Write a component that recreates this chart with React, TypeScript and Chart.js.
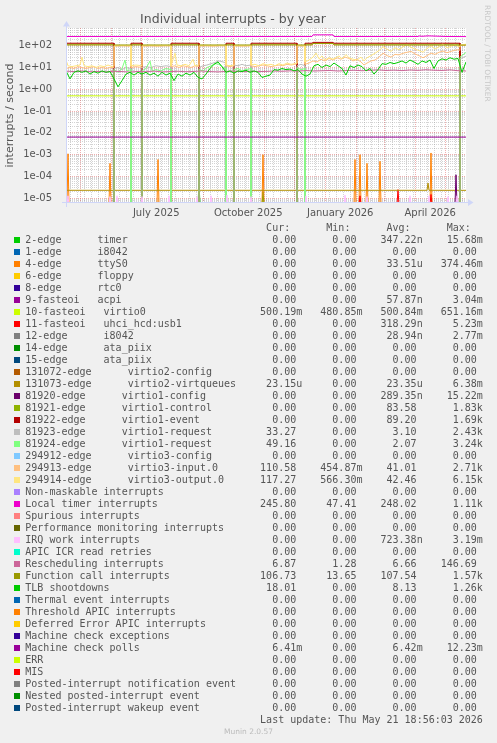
import React, { useEffect, useRef } from 'react';
import Chart from 'chart.js/auto';

// ---------- text ----------
const TITLE = 'Individual interrupts - by year';
const Y_TITLE = 'interrupts / second';
const LAST_UPDATE = 'Last update: Thu May 21 18:56:03 2026';
const MUNIN_VERSION = 'Munin 2.0.57';
const WATERMARK = 'RRDTOOL / TOBI OETIKER';
const FONT_COLOR = '#555555';

// ---------- axes ----------
// x = days since 2025-04-16 18:56 (400 days, up to 2026-05-21 18:56)
const START = Date.UTC(2025, 3, 16, 18, 56);
const dayOf = (y: number, m: number, d: number) => (Date.UTC(y, m - 1, d) - START) / 86400000;
const X_MIN = 0;
const X_MAX = 400;
const Y_MIN = 6.08e-6;
const Y_MAX = 649;
const Z = 5e-6; // a zero reading: drawn just below the floor of the log axis

const xTickLabels = ['July 2025', 'October 2025', 'January 2026', 'April 2026'];
const xTickDays = [dayOf(2025, 7, 16), dayOf(2025, 10, 16), dayOf(2026, 1, 16), dayOf(2026, 4, 16)];
const monthStartDays = [
  dayOf(2025, 5, 1), dayOf(2025, 6, 1), dayOf(2025, 7, 1), dayOf(2025, 8, 1), dayOf(2025, 9, 1),
  dayOf(2025, 10, 1), dayOf(2025, 11, 1), dayOf(2025, 12, 1), dayOf(2026, 1, 1), dayOf(2026, 2, 1),
  dayOf(2026, 3, 1), dayOf(2026, 4, 1), dayOf(2026, 5, 1),
];
const firstMonday = dayOf(2025, 4, 21);
const weekDays: number[] = [];
for (let d = firstMonday; d < X_MAX; d += 7) weekDays.push(d);

const yTickValues = [1e-5, 1e-4, 1e-3, 1e-2, 1e-1, 1, 10, 100];
const yTickLabels = ['1e-05', '1e-04', '1e-03', '1e-02', '1e-01', '1e+00', '1e+01', '1e+02'];

// ---------- legend ----------
const seriesLabels = [
  '2-edge      timer', '1-edge      i8042', '4-edge      ttyS0', '6-edge      floppy', '8-edge      rtc0',
  '9-fasteoi   acpi', '10-fasteoi   virtio0', '11-fasteoi   uhci_hcd:usb1', '12-edge      i8042',
  '14-edge      ata_piix', '15-edge      ata_piix', '131072-edge      virtio2-config',
  '131073-edge      virtio2-virtqueues', '81920-edge      virtio1-config', '81921-edge      virtio1-control',
  '81922-edge      virtio1-event', '81923-edge      virtio1-request', '81924-edge      virtio1-request',
  '294912-edge      virtio3-config', '294913-edge      virtio3-input.0', '294914-edge      virtio3-output.0',
  'Non-maskable interrupts', 'Local timer interrupts', 'Spurious interrupts',
  'Performance monitoring interrupts', 'IRQ work interrupts', 'APIC ICR read retries',
  'Rescheduling interrupts', 'Function call interrupts', 'TLB shootdowns', 'Thermal event interrupts',
  'Threshold APIC interrupts', 'Deferred Error APIC interrupts', 'Machine check exceptions',
  'Machine check polls', 'ERR', 'MIS', 'Posted-interrupt notification event',
  'Nested posted-interrupt event', 'Posted-interrupt wakeup event',
];
const seriesColors = [
  '#00CC00', '#0066B3', '#FF8000', '#FFCC00', '#330099', '#990099', '#CCFF00', '#FF0000', '#808080',
  '#008F00', '#00487D', '#B35A00', '#B38F00', '#6B006B', '#8FB300', '#B30000', '#BEBEBE', '#80FF80',
  '#80C9FF', '#FFC080', '#FFE680', '#AA80FF', '#EE00CC', '#FF8080', '#666600', '#FFBFFF', '#00FFCC',
  '#CC6699', '#999900', '#00CC00', '#0066B3', '#FF8000', '#FFCC00', '#330099', '#990099', '#CCFF00',
  '#FF0000', '#808080', '#008F00', '#00487D',
];
const curValues = [
  '0.00', '0.00', '0.00', '0.00', '0.00', '0.00', '500.19m', '0.00', '0.00', '0.00', '0.00', '0.00',
  '23.15u', '0.00', '0.00', '0.00', '33.27', '49.16', '0.00', '110.58', '117.27', '0.00', '245.80',
  '0.00', '0.00', '0.00', '0.00', '6.87', '106.73', '18.01', '0.00', '0.00', '0.00', '0.00', '6.41m',
  '0.00', '0.00', '0.00', '0.00', '0.00',
];
const minValues = [
  '0.00', '0.00', '0.00', '0.00', '0.00', '0.00', '480.85m', '0.00', '0.00', '0.00', '0.00', '0.00',
  '0.00', '0.00', '0.00', '0.00', '0.00', '0.00', '0.00', '454.87m', '566.30m', '0.00', '47.41',
  '0.00', '0.00', '0.00', '0.00', '1.28', '13.65', '0.00', '0.00', '0.00', '0.00', '0.00', '0.00',
  '0.00', '0.00', '0.00', '0.00', '0.00',
];
const avgValues = [
  '347.22n', '0.00', '33.51u', '0.00', '0.00', '57.87n', '500.84m', '318.29n', '28.94n', '0.00', '0.00',
  '0.00', '23.35u', '289.35n', '83.58', '89.20', '3.10', '2.07', '0.00', '41.01', '42.46', '0.00',
  '248.02', '0.00', '0.00', '723.38n', '0.00', '6.66', '107.54', '8.13', '0.00', '0.00', '0.00', '0.00',
  '6.42m', '0.00', '0.00', '0.00', '0.00', '0.00',
];
const maxValues = [
  '15.68m', '0.00', '374.46m', '0.00', '0.00', '3.04m', '651.16m', '5.23m', '2.77m', '0.00', '0.00',
  '0.00', '6.38m', '15.22m', '1.83k', '1.69k', '2.43k', '3.24k', '0.00', '2.71k', '6.15k', '0.00',
  '1.11k', '0.00', '0.00', '3.19m', '0.00', '146.69', '1.57k', '1.26k', '0.00', '0.00', '0.00', '0.00',
  '12.23m', '0.00', '0.00', '0.00', '0.00', '0.00',
];

// ---------- series values (day, value) ----------
type Pt = [number, number];
const ZERO_LINE: Pt[] = [[X_MIN, Z], [X_MAX, Z]];

const timerSpikeDays = [133, 197];
const timerSpikePeaks = [5e-5, 2e-5];
const ttyS0SpikeDays = [2, 44, 92, 197, 289, 294, 301, 314, 365];
const ttyS0SpikePeaks = [1.1e-3, 4e-4, 6e-4, 1e-3, 6e-4, 1e-3, 4e-4, 5e-4, 1.2e-3];
const usbSpikeDays = [294, 332, 365];
const usbSpikePeaks = [1.3e-5, 2.5e-5, 1.5e-5];
const virtio1ConfigSpikeDays = [390];
const virtio1ConfigSpikePeaks = [1.2e-4];
const irqWorkSpikeDays = [2, 44, 51, 76, 103, 131, 145, 161, 185, 240, 279, 301, 344, 363, 382, 391];
const irqWorkSpikePeaks = [1.3e-5, 1.2e-5, 1.3e-5, 1.2e-5, 1.3e-5, 1.2e-5, 1.3e-5, 1.4e-5, 1.2e-5, 1.3e-5, 1.4e-5, 1.2e-5, 1.3e-5, 1.3e-5, 1.2e-5, 1.3e-5];

const virtio0Pts: Pt[] = [[0, 0.5], [120, 0.5], [260, 0.5], [400, 0.5]];
const machineCheckPolls: Pt[] = [[0, 6.42e-3], [200, 6.42e-3], [400, 6.41e-3]];
const virtqueuesPts: Pt[] = [[0, 2.33e-5], [361, 2.33e-5], [362, 5e-5], [363, 2.33e-5], [400, 2.32e-5]];

const virtio1Control: Pt[] = [
  [0, 118], [48, 118], [48, Z], [65, Z], [65, 118], [76, 118], [76, Z], [105, Z], [105, 118], [133, 118],
  [133, Z], [160, Z], [160, 118], [168, 118], [168, Z], [185, Z], [185, 118], [231, 118], [231, Z], [239, Z],
  [239, 118], [246, 118], [247, 128], [267, 128], [268, 118], [394, 118], [394, Z], [400, Z],
];
const virtio1Event: Pt[] = [
  [0, 130], [48, 130], [48, Z], [65, Z], [65, 130], [76, 130], [76, Z], [105, Z], [105, 130], [133, 130],
  [133, Z], [160, Z], [160, 130], [168, 130], [168, Z], [185, Z], [185, 130], [231, 130], [231, Z], [239, Z],
  [239, 130], [246, 130], [247, 142], [267, 142], [268, 130], [394, 130], [394, Z], [400, Z],
];
const virtio1Request3: Pt[] = [
  [0, Z], [48, Z], [48, 9], [52, 10], [56, 8], [60, 10], [65, 9], [65, Z], [76, Z], [76, 10], [80, 11],
  [85, 10], [90, 12], [95, 11], [100, 12], [105, 11], [105, Z], [133, Z], [133, 10], [137, 12], [141, 13],
  [145, 15], [149, 17], [153, 20], [157, 18], [160, 16], [160, Z], [168, Z], [168, 13], [172, 12], [176, 14],
  [180, 12], [185, 13], [185, Z], [231, Z], [231, 12], [235, 14], [239, 12], [239, Z], [394, Z], [394, 25],
  [400, 33.27],
];
const virtio1Request4: Pt[] = [
  [0, Z], [48, Z], [48, 8], [52, 6], [56, 9], [59, 22], [61, 7], [65, 8], [65, Z], [76, Z], [76, 7], [80, 9],
  [84, 20], [86, 7], [90, 8], [95, 7], [100, 9], [105, 8], [105, Z], [133, Z], [133, 8], [137, 7], [141, 10],
  [145, 12], [149, 15], [153, 14], [157, 10], [160, 9], [160, Z], [168, Z], [168, 8], [172, 9], [176, 7],
  [180, 8], [185, 9], [185, Z], [231, Z], [231, 10], [235, 8], [239, 9], [239, Z], [394, Z], [394, 30],
  [400, 49.16],
];
const virtio3Input: Pt[] = [
  [0, 9], [4, 10], [8, 9], [12, 11], [16, 10], [20, 9], [24, 10], [28, 11], [32, 9], [36, 10], [40, 9],
  [44, 10], [48, 10], [48, 95], [56, 98], [65, 95], [65, 10], [70, 11], [76, 10], [76, 95], [84, 97],
  [92, 95], [100, 98], [105, 96], [105, 11], [109, 12], [113, 10], [117, 12], [121, 11], [125, 10],
  [129, 12], [133, 11], [133, 96], [140, 98], [147, 95], [154, 99], [160, 97], [160, 12], [164, 11],
  [168, 12], [168, 97], [176, 95], [185, 98], [185, 12], [189, 11], [193, 12], [197, 13], [201, 12],
  [205, 11], [209, 12], [213, 13], [217, 12], [221, 14], [225, 13], [229, 14], [231, 15], [231, 98],
  [239, 96], [239, 14], [243, 16], [247, 20], [251, 18], [255, 24], [259, 20], [263, 26], [267, 22],
  [271, 28], [275, 24], [279, 30], [283, 26], [287, 20], [291, 24], [295, 18], [298, 13], [301, 16],
  [305, 20], [309, 22], [313, 30], [317, 45], [321, 35], [325, 30], [329, 40], [333, 38], [337, 45],
  [341, 50], [345, 55], [349, 42], [353, 35], [357, 28], [361, 35], [365, 46], [369, 40], [373, 50],
  [377, 57], [381, 48], [385, 55], [389, 62], [393, 66], [394, 60], [394, 100], [397, 105], [400, 110.58],
];
const virtio3Output: Pt[] = [
  [0, 22], [2, 12], [6, 11], [10, 12], [14, 13], [16, 30], [18, 12], [22, 11], [26, 12], [30, 10], [34, 12],
  [38, 11], [42, 13], [46, 11], [48, 12], [48, 100], [56, 103], [65, 101], [65, 12], [70, 13], [76, 12],
  [76, 101], [84, 104], [92, 100], [100, 103], [105, 101], [105, 12], [109, 45], [111, 13], [115, 12],
  [119, 14], [123, 12], [127, 24], [129, 12], [133, 13], [133, 102], [140, 104], [147, 100], [154, 105],
  [160, 102], [160, 13], [164, 12], [168, 13], [168, 103], [176, 100], [185, 104], [185, 13], [189, 14],
  [193, 12], [197, 15], [201, 13], [205, 14], [209, 12], [213, 15], [217, 13], [221, 16], [225, 14],
  [229, 15], [231, 16], [231, 104], [239, 101], [239, 18], [243, 22], [247, 30], [250, 46], [253, 25],
  [256, 34], [259, 22], [263, 28], [267, 24], [271, 30], [273, 34], [276, 25], [280, 39], [283, 28],
  [287, 24], [291, 22], [295, 30], [298, 20], [301, 28], [305, 35], [309, 45], [313, 60], [317, 90],
  [321, 70], [325, 55], [329, 80], [333, 65], [337, 90], [341, 110], [345, 85], [349, 70], [353, 60],
  [357, 50], [361, 75], [365, 100], [369, 70], [373, 90], [377, 120], [381, 80], [385, 95], [389, 110],
  [393, 90], [394, 90], [394, 108], [397, 112], [400, 117.27],
];
const localTimer: Pt[] = [
  [0, 265], [246, 265], [247, 315], [267, 315], [268, 265], [352, 265], [353, 280], [356, 270],
  [362, 282], [370, 275], [380, 265], [400, 262],
];
const functionCall: Pt[] = [[0, 108], [246, 108], [247, 125], [267, 125], [268, 108], [400, 106.73]];

// 8-day steps
const RESCHED_STEP = 8;
const reschedValues = [
  6.8, 6.5, 6.9, 6.4, 6.6, 6.3, 6.7, 6.5, 6.2, 6.6, 6.4, 6.8, 6.3, 6.5, 6.7, 6.4, 6.6, 6.9, 6.5, 6.3,
  6.6, 6.8, 6.4, 6.7, 6.5, 6.6, 6.9, 6.7, 7.0, 6.8, 7.2, 6.9, 7.1, 7.3, 6.9, 7.2, 7.5, 7.1, 7.4, 7.8,
  7.3, 7.6, 7.2, 7.7, 7.4, 7.9, 7.5, 7.3, 7.8, 7.1, 6.9,
];
// 4-day steps
const TLB_STEP = 4;
const tlbValues = [
  7, 3, 6, 7, 6, 7, 5, 6.5, 5.5, 7, 6, 6.5, 3, 1.3, 2.5, 5, 6, 4.5, 6, 5, 6, 4.5, 5.5, 4, 6, 4.5, 5.5,
  2.5, 5, 4, 5.5, 4.5, 6, 3.5, 3, 5, 9, 14, 18, 11, 6, 7, 5.5, 7, 6.5, 7.5, 6, 7, 6, 3.5, 4, 4.5, 8, 7.5,
  9, 8, 8.5, 7, 8, 5, 4, 5, 12, 14, 10, 13, 11, 16, 12, 9, 4.5, 12, 10, 13, 11, 7, 9, 5, 8, 15, 14, 17,
  15, 17, 20, 16, 22, 18, 14, 20, 17, 22, 9, 20, 25, 22, 28, 24, 26, 6, 18,
];

function spikeLine(days: number[], peaks: number[]): Pt[] {
  const pts: Pt[] = [[X_MIN, Z]];
  days.forEach((d, i) => { pts.push([d - 1, Z], [d, peaks[i]], [d + 1, Z]); });
  pts.push([X_MAX, Z]);
  return pts;
}
const stepLine = (values: number[], step: number): Pt[] => values.map((v, i) => [i * step, v]);

const seriesPoints: Pt[][] = [
  spikeLine(timerSpikeDays, timerSpikePeaks), ZERO_LINE, spikeLine(ttyS0SpikeDays, ttyS0SpikePeaks),
  ZERO_LINE, ZERO_LINE, ZERO_LINE, virtio0Pts, spikeLine(usbSpikeDays, usbSpikePeaks), ZERO_LINE,
  ZERO_LINE, ZERO_LINE, ZERO_LINE, virtqueuesPts, spikeLine(virtio1ConfigSpikeDays, virtio1ConfigSpikePeaks),
  virtio1Control, virtio1Event, virtio1Request3, virtio1Request4, ZERO_LINE, virtio3Input, virtio3Output,
  ZERO_LINE, localTimer, ZERO_LINE, ZERO_LINE, spikeLine(irqWorkSpikeDays, irqWorkSpikePeaks), ZERO_LINE,
  stepLine(reschedValues, RESCHED_STEP), functionCall, stepLine(tlbValues, TLB_STEP),
  ZERO_LINE, ZERO_LINE, ZERO_LINE, ZERO_LINE, machineCheckPolls, ZERO_LINE, ZERO_LINE, ZERO_LINE,
  ZERO_LINE, ZERO_LINE,
];

// ---------- drawing helpers ----------
const GRID_MINOR = 'rgba(143,143,143,0.38)';
const GRID_MAJOR = 'rgba(222,79,79,0.45)';
const AXIS_COLOR = '#CFD6F8';
const CANVAS_H = 236;
const PLOT_BOTTOM = 203;

const rrdPlugin = {
  id: 'rrdLook',
  beforeDatasetsDraw(chart: any) {
    const { ctx, chartArea: a, scales } = chart;
    const xs = scales.x;
    const ys = scales.y;
    ctx.save();
    ctx.fillStyle = '#ffffff';
    ctx.fillRect(a.left, a.top, a.right - a.left, a.bottom - a.top);
    ctx.lineWidth = 1;
    ctx.setLineDash([1, 1]);
    const hline = (v: number, c: string) => {
      const py = Math.floor(ys.getPixelForValue(v)) + 0.5;
      ctx.strokeStyle = c;
      ctx.beginPath(); ctx.moveTo(a.left, py); ctx.lineTo(a.right, py); ctx.stroke();
    };
    const vline = (d: number, c: string) => {
      const px = Math.floor(xs.getPixelForValue(d)) + 0.5;
      ctx.strokeStyle = c;
      ctx.beginPath(); ctx.moveTo(px, a.top); ctx.lineTo(px, a.bottom); ctx.stroke();
    };
    for (let e = -6; e <= 2; e++) {
      for (let k = 2; k <= 9; k++) {
        const v = k * Math.pow(10, e);
        if (v > ys.min && v < ys.max) hline(v, GRID_MINOR);
      }
    }
    weekDays.forEach((d) => vline(d, GRID_MINOR));
    yTickValues.forEach((v) => hline(v, GRID_MAJOR));
    monthStartDays.forEach((d) => vline(d, GRID_MAJOR));
    ctx.restore();
  },
  afterDatasetsDraw(chart: any) {
    const { ctx, chartArea: a } = chart;
    ctx.save();
    ctx.strokeStyle = AXIS_COLOR;
    ctx.fillStyle = AXIS_COLOR;
    ctx.lineWidth = 1;
    const by = a.bottom - 0.5;
    const lx = a.left + 0.5;
    ctx.beginPath(); ctx.moveTo(a.left - 4, by); ctx.lineTo(a.right + 3, by); ctx.stroke();
    ctx.beginPath(); ctx.moveTo(lx, a.bottom + 4); ctx.lineTo(lx, a.top - 3); ctx.stroke();
    ctx.beginPath(); ctx.moveTo(a.right + 2, by - 3.5); ctx.lineTo(a.right + 2, by + 3.5); ctx.lineTo(a.right + 7.5, by); ctx.closePath(); ctx.fill();
    ctx.beginPath(); ctx.moveTo(lx - 3.5, a.top - 1.5); ctx.lineTo(lx + 3.5, a.top - 1.5); ctx.lineTo(lx, a.top - 7); ctx.closePath(); ctx.fill();
    ctx.restore();
  },
};

const fmtField = (v: string) => (/[a-z]$/i.test(v) ? v : v + ' ').padStart(10);
const legendLines = seriesLabels.map(
  (l, i) => l.padEnd(36) + fmtField(curValues[i]) + fmtField(minValues[i]) + fmtField(avgValues[i]) + fmtField(maxValues[i]),
);
const headerLine = ' '.repeat(40) + 'Cur:' + ' '.repeat(6) + 'Min:' + ' '.repeat(6) + 'Avg:' + ' '.repeat(6) + 'Max:';
const lastUpdateLine = ' '.repeat(39) + LAST_UPDATE;

const ROW0_TOP = 233.8;
const ROW_H = 12;
const MONO: React.CSSProperties = {
  position: 'absolute', left: 25.3, top: 0, fontFamily: '"DejaVu Sans Mono", monospace', fontSize: 10,
  lineHeight: '12px', whiteSpace: 'pre', color: FONT_COLOR,
};

export default function App() {
  const ref = useRef<HTMLCanvasElement>(null);
  useEffect(() => {
    document.body.style.margin = '0';
    const canvas = ref.current!;
    const font10 = { family: 'DejaVu Sans', size: 10 };
    const chart = new Chart(canvas, {
      type: 'line',
      data: {
        datasets: seriesPoints.map((pts, i) => ({
          label: seriesLabels[i],
          data: pts.map(([x, y]) => ({ x, y })),
          borderColor: seriesColors[i],
          backgroundColor: seriesColors[i],
          borderWidth: 1,
          pointRadius: 0,
          tension: 0,
          fill: false,
          order: -i,
        })),
      },
      options: {
        animation: false,
        responsive: false,
        maintainAspectRatio: false,
        events: [],
        layout: { padding: { left: 0, right: 31, top: 0, bottom: 0 } },
        plugins: {
          legend: { display: false },
          tooltip: { enabled: false },
          title: {
            display: true, text: TITLE, color: FONT_COLOR,
            font: { family: 'DejaVu Sans', size: 12.5, weight: 'normal' },
            padding: { top: 12, bottom: 1 },
          },
        },
        scales: {
          x: {
            type: 'linear', min: X_MIN, max: X_MAX,
            grid: { display: false }, border: { display: false },
            afterFit: (s: any) => { s.height = CANVAS_H - PLOT_BOTTOM; },
            afterBuildTicks: (s: any) => { s.ticks = xTickDays.map((v) => ({ value: v })); },
            ticks: {
              autoSkip: false, maxRotation: 0, minRotation: 0, padding: -4, color: FONT_COLOR, font: font10,
              callback: (_v: any, i: number) => xTickLabels[i],
            },
          },
          y: {
            type: 'logarithmic', min: Y_MIN, max: Y_MAX,
            grid: { display: false }, border: { display: false },
            afterFit: (s: any) => { s.width = 66; },
            afterBuildTicks: (s: any) => { s.ticks = yTickValues.map((v) => ({ value: v })); },
            ticks: {
              autoSkip: false, padding: 6, color: FONT_COLOR, font: font10,
              callback: (_v: any, i: number) => yTickLabels[i],
            },
            title: {
              display: true, text: Y_TITLE, color: FONT_COLOR,
              font: { family: 'DejaVu Sans', size: 11 }, padding: { top: 4, bottom: 0 },
            },
          },
        },
      } as any,
      plugins: [rrdPlugin],
    });
    return () => chart.destroy();
  }, []);

  return (
    <div style={{ position: 'absolute', left: 0, top: 0, width: 497, height: 743, background: '#f0f0f0', overflow: 'hidden' }}>
      <canvas ref={ref} width={497} height={CANVAS_H} style={{ position: 'absolute', left: 0, top: 0, width: 497, height: CANVAS_H }} />
      <div style={{
        position: 'absolute', left: 483, top: 5, writingMode: 'vertical-rl', fontFamily: '"DejaVu Sans", sans-serif',
        fontSize: 7.5, lineHeight: '9px', color: '#c8c8c8', whiteSpace: 'nowrap',
      }}>{WATERMARK}</div>
      <div style={{ position: 'absolute', left: 0, top: ROW0_TOP - ROW_H, width: 497, height: ROW_H }}>
        <div style={MONO}>{headerLine}</div>
      </div>
      {legendLines.map((line, i) => (
        <div key={i} style={{ position: 'absolute', left: 0, top: ROW0_TOP + ROW_H * i, width: 497, height: ROW_H }}>
          <div style={{ position: 'absolute', left: 14, top: 3.2, width: 6, height: 6, background: seriesColors[i] }} />
          <div style={MONO}>{line}</div>
        </div>
      ))}
      <div style={{ position: 'absolute', left: 0, top: ROW0_TOP + ROW_H * 40, width: 497, height: ROW_H }}>
        <div style={MONO}>{lastUpdateLine}</div>
      </div>
      <div style={{
        position: 'absolute', left: 0, top: 727.4, width: 497, textAlign: 'center', fontFamily: '"DejaVu Sans", sans-serif',
        fontSize: 7.5, lineHeight: '9px', color: '#bbbbbb',
      }}>{MUNIN_VERSION}</div>
    </div>
  );
}
